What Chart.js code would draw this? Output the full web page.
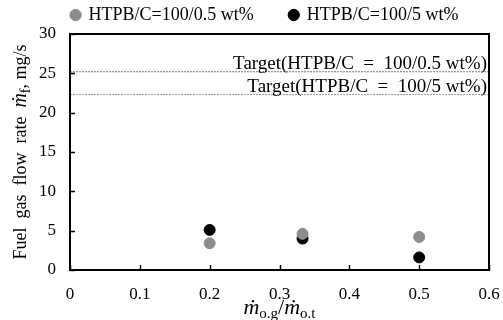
<!DOCTYPE html>
<html>
<head>
<meta charset="utf-8">
<script src="https://cdn.jsdelivr.net/npm/chart.js@4"></script>
<style>
  html, body { margin: 0; padding: 0; background: #fff; }
  #wrap { width: 503px; height: 320px; }
</style>
</head>
<body>
<div id="wrap"><canvas id="fuelChart"></canvas></div>
<script>
// data
var xRatios = [0.2, 0.333, 0.5];
var fuelRate05 = [3.4, 4.6, 4.2];
var fuelRate5 = [5.1, 4.0, 1.6];
var seriesLabels = ["HTPB/C=100/0.5 wt%", "HTPB/C=100/5 wt%"];
var targetValues = [25.2, 22.3];
var targetLabels = ["Target(HTPB/C  =  100/0.5 wt%)", "Target(HTPB/C  =  100/5 wt%)"];
var xTickLabels = ["0", "0.1", "0.2", "0.3", "0.4", "0.5", "0.6"];
var yTickLabels = ["0", "5", "10", "15", "20", "25", "30"];

var serif = "'Liberation Serif', 'DejaVu Serif', serif";

function points(xs, ys) {
  return xs.map(function (x, i) { return { x: x, y: ys[i] }; });
}

// frame, inward ticks, target captions and axis titles with subscripts
var decorPlugin = {
  id: 'decor',
  afterDraw: function (chart) {
    var c = chart.ctx, a = chart.chartArea;
    var xs = chart.scales.x, ys = chart.scales.y;
    c.save();
    c.strokeStyle = '#000';
    c.lineWidth = 2;
    c.strokeRect(a.left, a.top, a.right - a.left, a.bottom - a.top);
    c.lineWidth = 1.5;
    c.beginPath();
    ys.ticks.forEach(function (t) {
      var py = Math.round(ys.getPixelForValue(t.value)) + 0.5;
      c.moveTo(a.left, py); c.lineTo(a.left + 5, py);
    });
    xs.ticks.forEach(function (t) {
      var px = Math.round(xs.getPixelForValue(t.value)) + 0.5;
      c.moveTo(px, a.bottom); c.lineTo(px, a.bottom - 5);
    });
    c.stroke();

    c.fillStyle = '#000';
    c.font = '19px ' + serif;
    c.textAlign = 'right';
    c.textBaseline = 'alphabetic';
    targetValues.forEach(function (v, i) {
      c.fillText(targetLabels[i], a.right - 2, ys.getPixelForValue(v) - 3);
    });

    function runs(parts) {
      var w = 0;
      parts.forEach(function (p) { c.font = p.f; w += c.measureText(p.t).width; });
      return w;
    }
    // x title: m-dot o.g / m-dot o.t
    var big = 'italic 22px ' + serif, sub = '15px ' + serif, norm = '22px ' + serif;
    var xParts = [
      { t: 'ṁ', f: big, dy: 0 }, { t: 'o.g', f: sub, dy: 4 },
      { t: '/', f: norm, dy: 0 },
      { t: 'ṁ', f: big, dy: 0 }, { t: 'o.t', f: sub, dy: 4 }
    ];
    c.textAlign = 'left';
    var x0 = (a.left + a.right) / 2 - runs(xParts) / 2;
    xParts.forEach(function (p) {
      c.font = p.f; c.fillText(p.t, x0, 314 + p.dy); x0 += c.measureText(p.t).width;
    });

    // y title, rotated
    var yParts = [
      { t: 'Fuel  gas  flow  rate  ', f: '18px ' + serif, dy: 0 },
      { t: 'ṁ', f: 'italic 20px ' + serif, dy: 0 },
      { t: 'f', f: '14px ' + serif, dy: 4 },
      { t: ', mg/s', f: '18px ' + serif, dy: 0 }
    ];
    c.translate(26, (a.top + a.bottom) / 2);
    c.rotate(-Math.PI / 2);
    var y0 = -runs(yParts) / 2;
    yParts.forEach(function (p) {
      c.font = p.f; c.fillText(p.t, y0, p.dy); y0 += c.measureText(p.t).width;
    });
    c.restore();
  }
};

var ctx = document.getElementById('fuelChart').getContext('2d');

var myChart = new Chart(ctx, {
  type: 'scatter',
  data: {
    datasets: [{
        label: seriesLabels[0],
        data: points(xRatios, fuelRate05),
        backgroundColor: '#8c8c8c',
        borderColor: '#8c8c8c',
        pointRadius: 5.5,
        pointHoverRadius: 5.5
      },
      {
        label: seriesLabels[1],
        data: points(xRatios, fuelRate5),
        backgroundColor: '#000',
        borderColor: '#000',
        pointRadius: 5.5,
        pointHoverRadius: 5.5
      },
      {
        type: 'line',
        label: 'target05',
        data: [{ x: 0, y: targetValues[0] }, { x: 0.6, y: targetValues[0] }],
        borderColor: '#777',
        borderWidth: 1,
        borderDash: [2, 1],
        pointRadius: 0,
        showLine: true
      },
      {
        type: 'line',
        label: 'target5',
        data: [{ x: 0, y: targetValues[1] }, { x: 0.6, y: targetValues[1] }],
        borderColor: '#999',
        borderWidth: 1,
        borderDash: [2, 1],
        pointRadius: 0,
        showLine: true
      }
    ]
  },
  options: {
    responsive: true,
    maintainAspectRatio: false,
    animation: false,
    layout: { padding: { top: -30, right: -27, left: 0, bottom: 0 } },
    plugins: {
      tooltip: { enabled: false },
      legend: {
        display: true,
        position: 'top',
        align: 'center',
        labels: {
          filter: function (item) { return item.datasetIndex < 2; },
          usePointStyle: true,
          pointStyle: 'circle',
          boxWidth: 8,
          boxHeight: 8,
          padding: 36,
          color: '#000',
          font: { family: serif, size: 18 }
        }
      }
    },
    scales: {
      x: {
        type: 'linear',
        min: 0,
        max: 0.6,
        grid: { display: false, drawTicks: false },
        border: { display: false },
        afterFit: function (s) { s.height = 50; s.paddingLeft = 0; s.paddingRight = 14; },
        ticks: {
          stepSize: 0.1,
          padding: 14,
          color: '#000',
          font: { family: serif, size: 17 },
          callback: function (v, i) { return xTickLabels[i]; }
        }
      },
      y: {
        min: 0,
        max: 30,
        grid: { display: false, drawTicks: false },
        border: { display: false },
        afterFit: function (s) { s.width = 70; },
        ticks: {
          stepSize: 5,
          padding: 14,
          color: '#000',
          font: { family: serif, size: 17 },
          callback: function (v, i) { return yTickLabels[i]; }
        }
      }
    }
  },
  plugins: [decorPlugin]
});
</script>
</body>
</html>
